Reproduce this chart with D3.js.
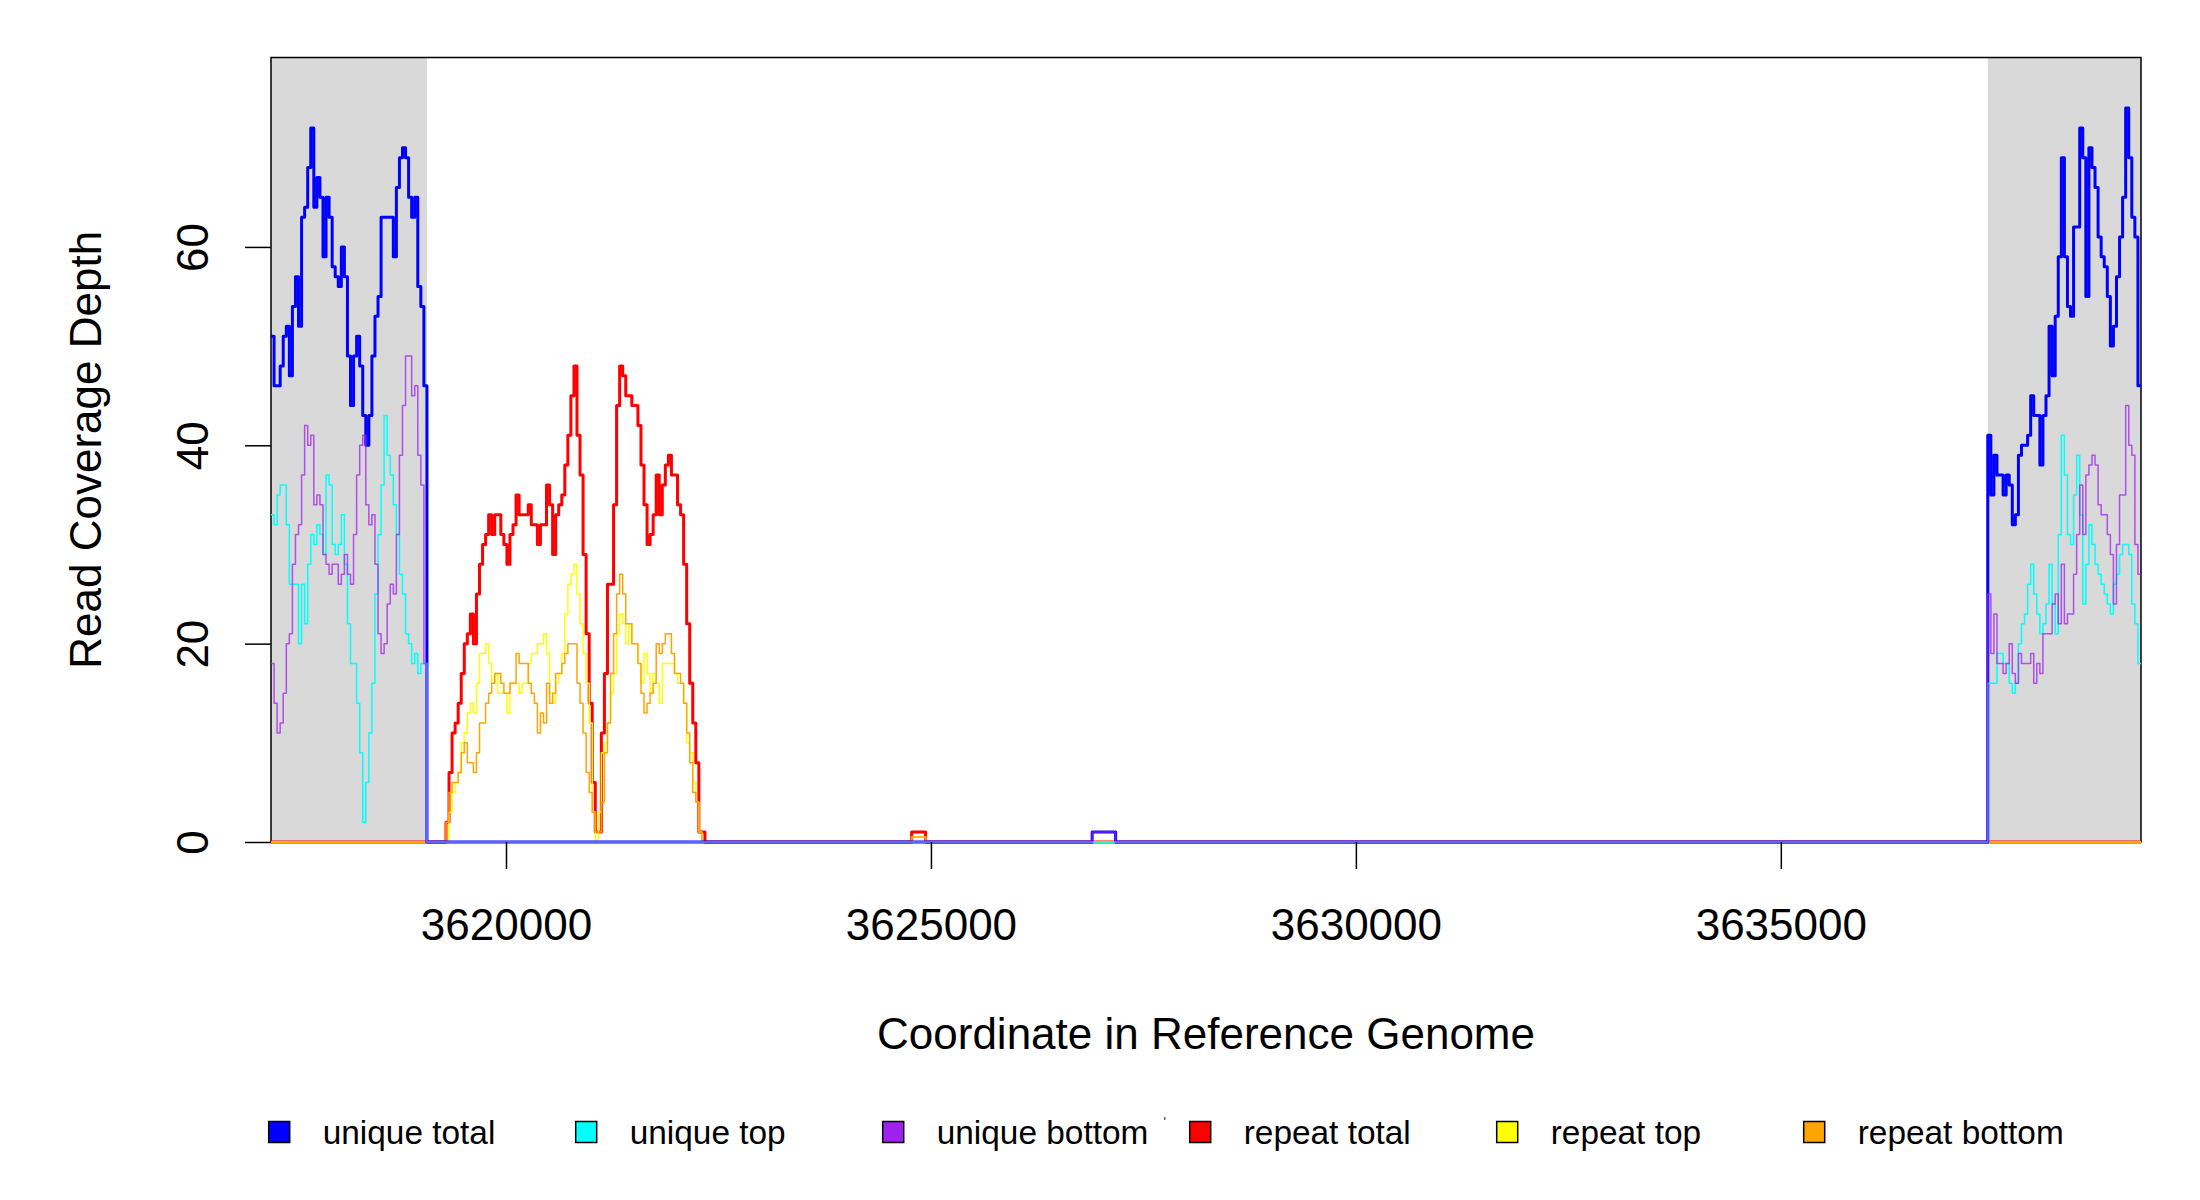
<!DOCTYPE html>
<html>
<head>
<meta charset="utf-8">
<script src="https://d3js.org/d3.v7.min.js"></script>
<style>
  body { margin: 0; background: #fff; }
  text { font-family: "Liberation Sans", Arial, sans-serif; fill: #000; }
</style>
</head>
<body>
<div id="chart"></div>
<script>
// axis ranges and ticks
var xDomain = [3617235, 3639238];
var yDomain = [0, 79.1];
var xTicks = [3620000, 3625000, 3630000, 3635000];
var yTicks = [0, 20, 40, 60];

// genome spans (bp)
var leftFlank = [3617235, 3619070];
var rightFlank = [3637435, 3639238];
var repeatSpan = [3619294, 3622341];
var repeatBlipSpan = [3624773, 3624937];
var uniqueBlipSpan = [3626897, 3627173];

// coverage, evenly binned over each span
var uniqueTotalLeft = [51,46,46,48,51,52,47,54,57,52,63,64,68,72,64,67,65,59,65,63,58,57,56,60,57,49,44,49,51,48,43,40,43,49,53,55,63,63,63,63,59,66,69,70,69,65,63,65,56,54,46];
var uniqueTopLeft = [33,32,35,36,36,32,26,26,26,20,26,22,28,31,30,32,31,29,37,36,30,29,30,33,28,22,18,18,14,9,2,6,11,16,25,31,36,43,39,37,34,31,27,25,21,20,18,19,17,18,18];
var uniqueBottomLeft = [18,14,11,12,15,20,21,28,31,32,37,42,40,41,34,35,34,29,28,27,28,28,26,27,29,27,26,31,37,40,41,34,32,33,28,21,19,20,24,26,25,31,39,44,49,49,45,46,39,36,18];

var uniqueTotalRight = [41,35,39,37,37,35,37,36,32,33,39,40,40,41,45,43,43,38,43,45,52,47,53,59,69,59,54,53,62,62,72,69,55,70,68,66,61,59,58,55,50,52,57,61,65,74,69,63,61,46];
var uniqueTopRight = [16,16,16,19,19,18,18,16,15,16,20,22,23,26,28,25,23,21,22,24,28,24,21,31,41,37,31,30,35,39,33,24,28,32,30,28,27,26,25,24,23,26,27,29,30,30,29,24,22,18];
var uniqueBottomRight = [25,19,23,18,18,17,18,20,17,16,19,18,18,18,19,16,18,17,21,21,21,24,25,22,28,22,23,23,27,31,36,31,37,38,39,38,34,33,33,31,29,24,30,35,35,44,40,39,30,27];

var repeatTotal = [2,7,11,12,14,17,20,21,23,20,25,28,30,31,33,31,33,33,31,30,28,31,32,35,33,33,33,34,32,32,30,32,32,36,34,29,33,34,35,38,41,45,48,41,37,29,21,14,6,1,1,11,17,26,26,34,44,48,47,45,45,44,44,42,38,34,30,31,33,37,33,36,38,39,37,37,34,33,28,22,16,12,8,1,1];
var repeatTop = [0,3,5,6,7,10,11,13,14,13,16,19,19,20,18,16,17,15,15,15,13,16,16,16,15,16,16,18,19,19,20,20,21,19,15,14,16,17,19,23,26,27,28,25,22,19,16,12,3,0,3,9,10,12,15,17,21,23,22,20,22,20,20,18,16,19,17,15,17,16,14,18,18,18,18,17,16,16,14,10,9,6,4,1,0];
var repeatBottom = [2,5,6,6,7,9,10,8,8,7,9,12,12,14,15,16,17,17,16,15,15,16,16,19,18,18,18,16,15,14,11,13,12,16,14,15,17,17,18,19,20,20,20,16,14,11,7,5,3,1,1,4,9,12,17,21,25,27,25,22,22,20,20,18,15,13,14,15,16,20,19,20,21,21,19,17,17,16,14,11,8,5,4,1,0];

// small isolated bumps
var repeatTotalBlip = [1];
var repeatTopBlip = [0.5];
var repeatBottomBlip = [0.5];
var uniqueTotalBlip = [1];
var uniqueBottomBlip = [1];

var legendLabels = ["unique total", "unique top", "unique bottom", "repeat total", "repeat top", "repeat bottom"];
var legendColors = ["#0000ff", "#00ffff", "#a020f0", "#ff0000", "#ffff00", "#ffa500"];

var svgWidth = 2200;
var svgHeight = 1200;

var margin = {top: 57.5, right: 59, bottom: 358, left: 271};

var width = svgWidth - margin.left - margin.right;
var height = svgHeight - margin.top - margin.bottom;

var svg = d3.select("#chart")
    .append("svg")
    .attr("width", svgWidth)
    .attr("height", svgHeight)
    .style("display", "block")
    .style("background", "#fff");

var chartGroup = svg.append("g")
    .attr("transform", `translate(${margin.left}, ${margin.top})`);

var xScale = d3.scaleLinear().domain(xDomain).range([0, width]);
var yScale = d3.scaleLinear().domain(yDomain).range([height, 0]);

// flank shading
[leftFlank, rightFlank].forEach(function(span) {
    chartGroup.append("rect")
        .attr("x", xScale(span[0]))
        .attr("y", 0)
        .attr("width", xScale(span[1]) - xScale(span[0]))
        .attr("height", height)
        .attr("fill", "#d9d9d9");
});

// box
chartGroup.append("rect")
    .attr("x", 0).attr("y", 0)
    .attr("width", width).attr("height", height)
    .attr("fill", "none")
    .attr("stroke", "#000")
    .attr("stroke-width", 1.5);

// turn binned pieces into step points across the whole domain
function stepPoints(pieces) {
    var pts = [];
    var cursor = xDomain[0];
    var last = 0;
    pieces.forEach(function(p) {
        if (p.start > cursor) pts.push([cursor, 0]);
        var w = (p.end - p.start) / p.values.length;
        p.values.forEach(function(v, i) { pts.push([p.start + i * w, v]); });
        cursor = p.end;
        last = p.values[p.values.length - 1];
    });
    if (cursor < xDomain[1]) {
        pts.push([cursor, 0]);
        pts.push([xDomain[1], 0]);
    } else {
        pts.push([xDomain[1], last]);
    }
    return pts;
}

var series = [
    {color: "#ff0000", lw: 3, pieces: [
        {start: repeatSpan[0], end: repeatSpan[1], values: repeatTotal},
        {start: repeatBlipSpan[0], end: repeatBlipSpan[1], values: repeatTotalBlip}]},
    {color: "#ffff00", lw: 1.5, pieces: [
        {start: repeatSpan[0], end: repeatSpan[1], values: repeatTop},
        {start: repeatBlipSpan[0], end: repeatBlipSpan[1], values: repeatTopBlip}]},
    {color: "#ffa500", lw: 1.5, pieces: [
        {start: repeatSpan[0], end: repeatSpan[1], values: repeatBottom},
        {start: repeatBlipSpan[0], end: repeatBlipSpan[1], values: repeatBottomBlip}]},
    {color: "#0000ff", lw: 3, pieces: [
        {start: leftFlank[0], end: leftFlank[1], values: uniqueTotalLeft},
        {start: uniqueBlipSpan[0], end: uniqueBlipSpan[1], values: uniqueTotalBlip},
        {start: rightFlank[0], end: rightFlank[1], values: uniqueTotalRight}]},
    {color: "#00ffff", lw: 1.5, pieces: [
        {start: leftFlank[0], end: leftFlank[1], values: uniqueTopLeft},
        {start: rightFlank[0], end: rightFlank[1], values: uniqueTopRight}]},
    {color: "#a020f0", lw: 1.5, opacity: 0.75, pieces: [
        {start: leftFlank[0], end: leftFlank[1], values: uniqueBottomLeft},
        {start: uniqueBlipSpan[0], end: uniqueBlipSpan[1], values: uniqueBottomBlip},
        {start: rightFlank[0], end: rightFlank[1], values: uniqueBottomRight}]}
];

chartGroup.append("clipPath")
    .attr("id", "plotClip")
    .append("rect")
    .attr("x", 0).attr("y", -2)
    .attr("width", width).attr("height", height + 4);

var line = d3.line()
    .x(d => xScale(d[0]))
    .y(d => yScale(d[1]))
    .curve(d3.curveStepAfter);

var lineGroup = chartGroup.append("g").attr("clip-path", "url(#plotClip)");

series.forEach(function(s) {
    lineGroup.append("path")
        .datum(stepPoints(s.pieces))
        .attr("d", line)
        .attr("fill", "none")
        .attr("stroke", s.color)
        .attr("stroke-width", s.lw)
        .attr("stroke-opacity", s.opacity || 1)
        .attr("stroke-linejoin", "round");
});

// axes
var bottomAxis = d3.axisBottom(xScale)
    .tickValues(xTicks)
    .tickFormat(d3.format("d"))
    .tickSize(27)
    .tickPadding(40);

var xAxisG = chartGroup.append("g")
    .attr("transform", `translate(0, ${height})`)
    .call(bottomAxis);
xAxisG.select(".domain").remove();
xAxisG.selectAll(".tick line").attr("stroke", "#000").attr("stroke-width", 1.5);
xAxisG.selectAll(".tick text")
    .attr("font-size", "44px")
    .attr("font-family", "Liberation Sans, Arial, sans-serif")
    .attr("fill", "#000");

var leftAxis = d3.axisLeft(yScale)
    .tickValues(yTicks)
    .tickSize(26);

var yAxisG = chartGroup.append("g").call(leftAxis);
yAxisG.select(".domain").remove();
yAxisG.selectAll(".tick line").attr("stroke", "#000").attr("stroke-width", 1.5);
yAxisG.selectAll(".tick text")
    .attr("x", null)
    .attr("dy", null)
    .attr("text-anchor", "middle")
    .attr("transform", "translate(-63, 0) rotate(-90)")
    .attr("font-size", "44px")
    .attr("font-family", "Liberation Sans, Arial, sans-serif")
    .attr("fill", "#000");

// axis titles
chartGroup.append("text")
    .attr("transform", `translate(${101 - margin.left}, ${height / 2}) rotate(-90)`)
    .attr("text-anchor", "middle")
    .attr("font-size", "44px")
    .text("Read Coverage Depth");

chartGroup.append("text")
    .attr("x", width / 2)
    .attr("y", 1049 - margin.top)
    .attr("text-anchor", "middle")
    .attr("font-size", "44px")
    .text("Coordinate in Reference Genome");

// legend
var legend = svg.append("g").attr("transform", "translate(279.2, 1132)");
var items = legend.selectAll("g")
    .data(legendLabels)
    .enter()
    .append("g")
    .attr("transform", (d, i) => `translate(${i * 307}, 0)`);

items.append("rect")
    .attr("x", -10.5).attr("y", -10.5)
    .attr("width", 21).attr("height", 21)
    .attr("fill", (d, i) => legendColors[i])
    .attr("stroke", "#000")
    .attr("stroke-width", 1.5);

items.append("text")
    .attr("x", 43.5)
    .attr("y", 12)
    .attr("font-size", "33.4px")
    .text(d => d);

// stray speck in the legend row
svg.append("rect")
    .attr("x", 1164).attr("y", 1117)
    .attr("width", 1.5).attr("height", 3)
    .attr("fill", "#666");
</script>
</body>
</html>
